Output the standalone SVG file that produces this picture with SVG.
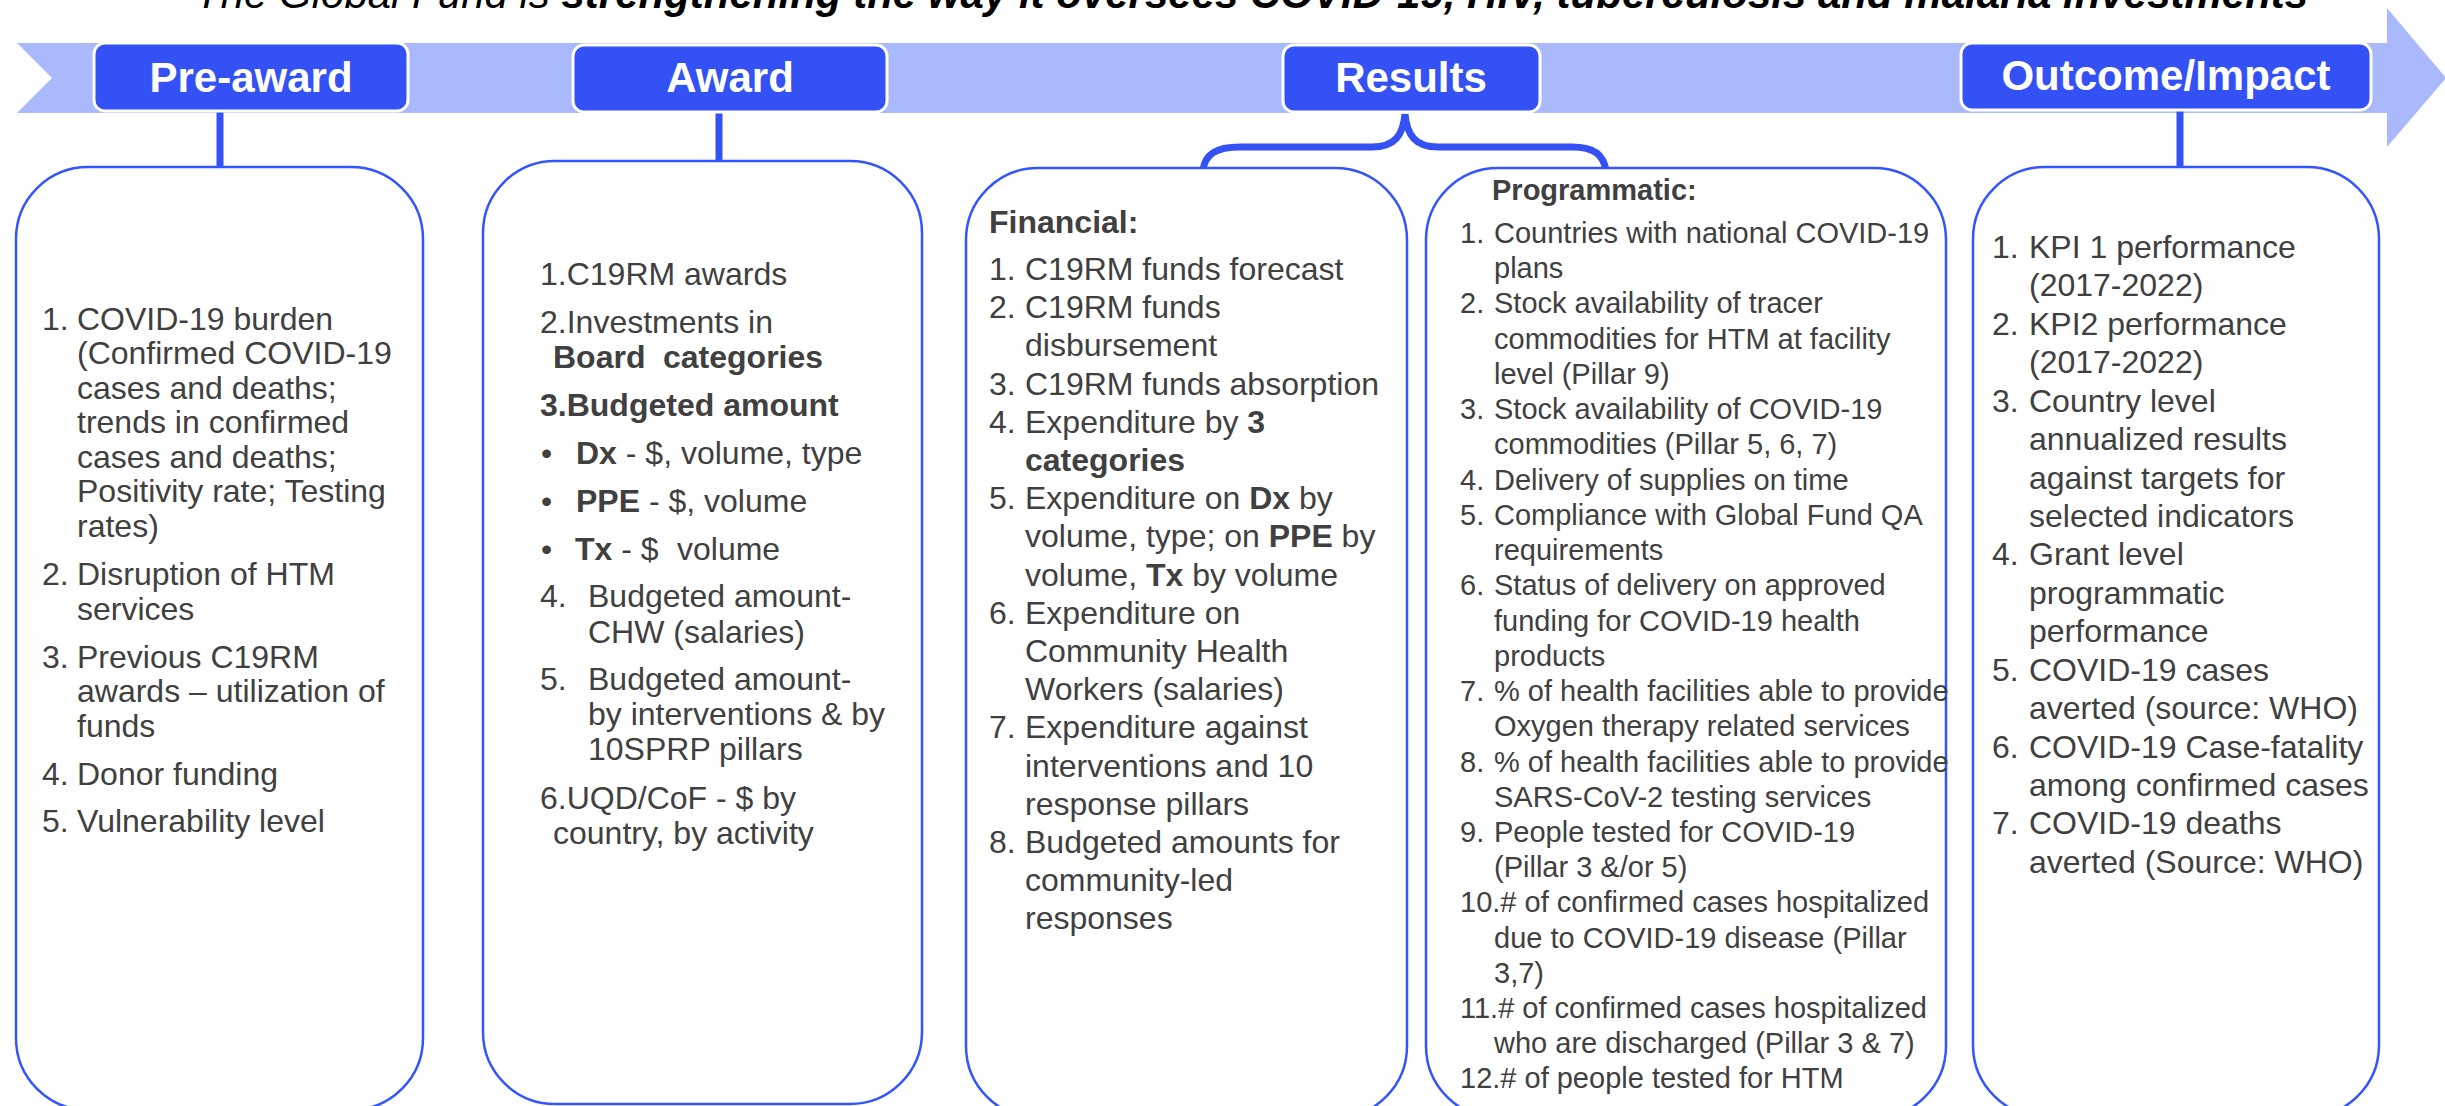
<svg xmlns="http://www.w3.org/2000/svg" width="2445" height="1106" viewBox="0 0 2445 1106">
<style>
.t{font-family:"Liberation Sans",Arial,sans-serif;font-size:32px;fill:#404040}
.s{font-size:29px}
.b{font-weight:bold}
.hd{font-family:"Liberation Sans",Arial,sans-serif;font-size:42px;font-weight:bold;fill:#fff;text-anchor:middle}
.hbox{fill:#3451F6;stroke:#fff;stroke-width:3}
.box{fill:#fff;stroke:#3355FF;stroke-width:2.5}
.con{fill:none;stroke:#3451F6;stroke-width:7}
.ttl{font-family:"Liberation Sans",Arial,sans-serif;font-size:42px;font-style:italic;fill:#000}
</style>
<rect width="2445" height="1106" fill="#fff"/>
<text class="ttl" x="195" y="8">The Global Fund is <tspan font-weight="bold">strengthening the way it oversees COVID-19, HIV, tuberculosis and malaria investments</tspan></text>
<polygon points="17,43 2387,43 2387,8 2446,78 2387,147 2387,113 17,113 52,78" fill="#AAB9FC"/>
<g id="connectors">
<line class="con" x1="220" y1="110" x2="220" y2="168"/>
<line class="con" x1="719" y1="112" x2="719" y2="161"/>
<line class="con" x1="2180" y1="110" x2="2180" y2="167"/>
<path class="con" stroke-width="8" d="M1203,170 C1205,155 1215,147 1240,147 L1372,147 C1395,147 1403,135 1405,114 C1407,135 1415,147 1438,147 L1572,147 C1595,147 1603,155 1606,170"/>
</g>
<g id="hdr-preaward"><rect class="hbox" x="94" y="43" width="314" height="68" rx="11"/><text class="hd" x="251" y="92">Pre-award</text></g>
<g id="hdr-award"><rect class="hbox" x="573" y="45" width="314" height="67" rx="11"/><text class="hd" x="730" y="92">Award</text></g>
<g id="hdr-results"><rect class="hbox" x="1283" y="45" width="257" height="67" rx="11"/><text class="hd" x="1411" y="92">Results</text></g>
<g id="hdr-outcome"><rect class="hbox" x="1961" y="43" width="410" height="67" rx="11"/><text class="hd" x="2166" y="90">Outcome/Impact</text></g>

<g id="box-preaward">
<rect class="box" x="16" y="167" width="407" height="943" rx="72"/>
<text class="t"><tspan x="42" y="330">1.</tspan><tspan x="77" y="330">COVID-19 burden</tspan><tspan x="77" y="364">(Confirmed COVID-19</tspan><tspan x="77" y="399">cases and deaths;</tspan><tspan x="77" y="433">trends in confirmed</tspan><tspan x="77" y="468">cases and deaths;</tspan><tspan x="77" y="502">Positivity rate; Testing</tspan><tspan x="77" y="537">rates)</tspan><tspan x="42" y="585">2.</tspan><tspan x="77" y="585">Disruption of HTM</tspan><tspan x="77" y="620">services</tspan><tspan x="42" y="668">3.</tspan><tspan x="77" y="668">Previous C19RM</tspan><tspan x="77" y="702">awards – utilization of</tspan><tspan x="77" y="737">funds</tspan><tspan x="42" y="785">4.</tspan><tspan x="77" y="785">Donor funding</tspan><tspan x="42" y="832">5.</tspan><tspan x="77" y="832">Vulnerability level</tspan></text>
</g>

<g id="box-award">
<rect class="box" x="483" y="161" width="439" height="943" rx="72"/>
<text class="t"><tspan x="540" y="285">1.C19RM awards</tspan><tspan x="540" y="333">2.Investments in</tspan><tspan class="b" x="553" y="368">Board</tspan><tspan class="b" x="663" y="368">categories</tspan><tspan class="b" x="540" y="416">3.Budgeted amount</tspan><tspan x="541" y="464">•</tspan><tspan class="b" x="576" y="464">Dx</tspan><tspan> - $, volume, type</tspan><tspan x="541" y="512">•</tspan><tspan class="b" x="576" y="512">PPE</tspan><tspan> - $, volume</tspan><tspan x="541" y="560">•</tspan><tspan class="b" x="575" y="560">Tx</tspan><tspan> - $</tspan><tspan x="677" y="560">volume</tspan><tspan x="540" y="607">4.</tspan><tspan x="588" y="607">Budgeted amount-</tspan><tspan x="588" y="643">CHW (salaries)</tspan><tspan x="540" y="690">5.</tspan><tspan x="588" y="690">Budgeted amount-</tspan><tspan x="588" y="725">by interventions &amp; by</tspan><tspan x="588" y="760">10SPRP pillars</tspan><tspan x="540" y="809">6.UQD/CoF - $ by</tspan><tspan x="553" y="844">country, by activity</tspan></text>
</g>

<g id="box-financial">
<rect class="box" x="966" y="168" width="441" height="950" rx="72"/>
<text class="t"><tspan class="b" x="989" y="233">Financial:</tspan><tspan x="989" y="280">1.</tspan><tspan x="1025" y="280">C19RM funds forecast</tspan><tspan x="989" y="318">2.</tspan><tspan x="1025" y="318">C19RM funds</tspan><tspan x="1025" y="356">disbursement</tspan><tspan x="989" y="395">3.</tspan><tspan x="1025" y="395">C19RM funds absorption</tspan><tspan x="989" y="433">4.</tspan><tspan x="1025" y="433">Expenditure by </tspan><tspan class="b">3</tspan><tspan class="b" x="1025" y="471">categories</tspan><tspan x="989" y="509">5.</tspan><tspan x="1025" y="509">Expenditure on </tspan><tspan class="b">Dx</tspan><tspan> by</tspan><tspan x="1025" y="547">volume, type; on </tspan><tspan class="b">PPE</tspan><tspan> by</tspan><tspan x="1025" y="586">volume, </tspan><tspan class="b">Tx</tspan><tspan> by volume</tspan><tspan x="989" y="624">6.</tspan><tspan x="1025" y="624">Expenditure on</tspan><tspan x="1025" y="662">Community Health</tspan><tspan x="1025" y="700">Workers (salaries)</tspan><tspan x="989" y="738">7.</tspan><tspan x="1025" y="738">Expenditure against</tspan><tspan x="1025" y="777">interventions and 10</tspan><tspan x="1025" y="815">response pillars</tspan><tspan x="989" y="853">8.</tspan><tspan x="1025" y="853">Budgeted amounts for</tspan><tspan x="1025" y="891">community-led</tspan><tspan x="1025" y="929">responses</tspan></text>
</g>

<g id="box-programmatic">
<rect class="box" x="1426" y="168" width="520" height="950" rx="72"/>
<text class="t s"><tspan class="b" x="1492" y="200">Programmatic:</tspan><tspan x="1460" y="243">1.</tspan><tspan x="1494" y="243">Countries with national COVID-19</tspan><tspan x="1494" y="278">plans</tspan><tspan x="1460" y="313">2.</tspan><tspan x="1494" y="313">Stock availability of tracer</tspan><tspan x="1494" y="349">commodities for HTM at facility</tspan><tspan x="1494" y="384">level (Pillar 9)</tspan><tspan x="1460" y="419">3.</tspan><tspan x="1494" y="419">Stock availability of COVID-19</tspan><tspan x="1494" y="454">commodities (Pillar 5, 6, 7)</tspan><tspan x="1460" y="490">4.</tspan><tspan x="1494" y="490">Delivery of supplies on time</tspan><tspan x="1460" y="525">5.</tspan><tspan x="1494" y="525">Compliance with Global Fund QA</tspan><tspan x="1494" y="560">requirements</tspan><tspan x="1460" y="595">6.</tspan><tspan x="1494" y="595">Status of delivery on approved</tspan><tspan x="1494" y="631">funding for COVID-19 health</tspan><tspan x="1494" y="666">products</tspan><tspan x="1460" y="701">7.</tspan><tspan x="1494" y="701">% of health facilities able to provide</tspan><tspan x="1494" y="736">Oxygen therapy related services</tspan><tspan x="1460" y="772">8.</tspan><tspan x="1494" y="772">% of health facilities able to provide</tspan><tspan x="1494" y="807">SARS-CoV-2 testing services</tspan><tspan x="1460" y="842">9.</tspan><tspan x="1494" y="842">People tested for COVID-19</tspan><tspan x="1494" y="877">(Pillar 3 &amp;/or 5)</tspan><tspan x="1460" y="912">10.# of confirmed cases hospitalized</tspan><tspan x="1494" y="948">due to COVID-19 disease (Pillar</tspan><tspan x="1494" y="983">3,7)</tspan><tspan x="1460" y="1018">11.# of confirmed cases hospitalized</tspan><tspan x="1494" y="1053">who are discharged (Pillar 3 &amp; 7)</tspan><tspan x="1460" y="1088">12.# of people tested for HTM</tspan></text>
</g>

<g id="box-outcome">
<rect class="box" x="1973" y="167" width="406" height="950" rx="72"/>
<text class="t"><tspan x="1992" y="258">1.</tspan><tspan x="2029" y="258">KPI 1 performance</tspan><tspan x="2029" y="296">(2017-2022)</tspan><tspan x="1992" y="335">2.</tspan><tspan x="2029" y="335">KPI2 performance</tspan><tspan x="2029" y="373">(2017-2022)</tspan><tspan x="1992" y="412">3.</tspan><tspan x="2029" y="412">Country level</tspan><tspan x="2029" y="450">annualized results</tspan><tspan x="2029" y="489">against targets for</tspan><tspan x="2029" y="527">selected indicators</tspan><tspan x="1992" y="565">4.</tspan><tspan x="2029" y="565">Grant level</tspan><tspan x="2029" y="604">programmatic</tspan><tspan x="2029" y="642">performance</tspan><tspan x="1992" y="681">5.</tspan><tspan x="2029" y="681">COVID-19 cases</tspan><tspan x="2029" y="719">averted (source: WHO)</tspan><tspan x="1992" y="758">6.</tspan><tspan x="2029" y="758">COVID-19 Case-fatality</tspan><tspan x="2029" y="796">among confirmed cases</tspan><tspan x="1992" y="834">7.</tspan><tspan x="2029" y="834">COVID-19 deaths</tspan><tspan x="2029" y="873">averted (Source: WHO)</tspan></text>
</g>
</svg>
